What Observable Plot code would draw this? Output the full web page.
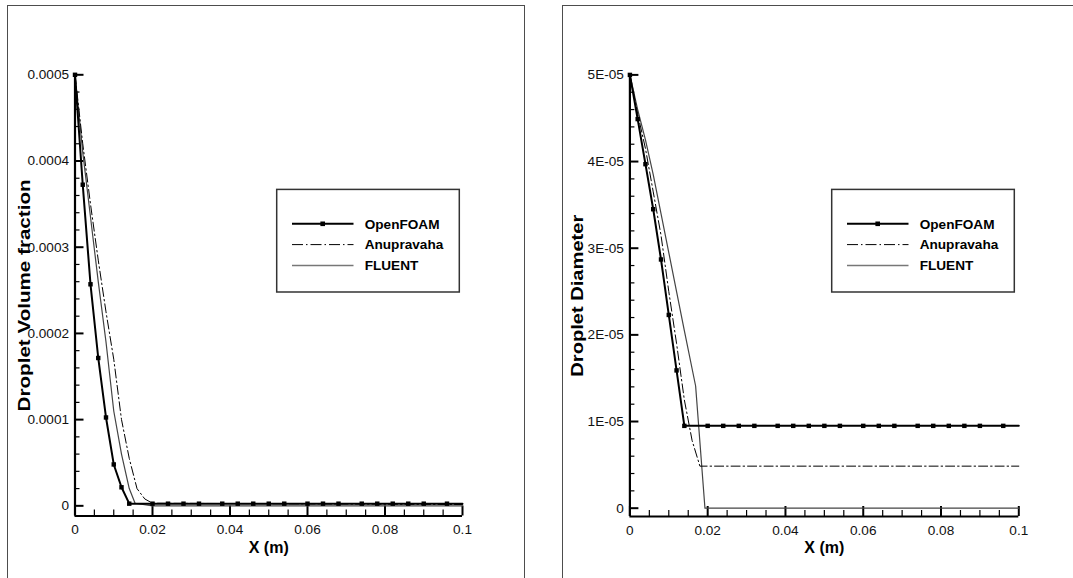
<!DOCTYPE html>
<html>
<head>
<meta charset="utf-8">
<script src="https://cdn.jsdelivr.net/npm/d3@7"></script>
<script src="https://cdn.jsdelivr.net/npm/@observablehq/plot@0.6"></script>
<style>
  html, body { margin: 0; padding: 0; background: #fff; }
  body { position: relative; width: 1073px; height: 578px; overflow: hidden;
         font-family: "Liberation Sans", Arial, Helvetica, sans-serif; }
  .panel { position: absolute; border: 1.5px solid #4d4d4d; box-sizing: border-box; }
  .chart { position: absolute; top: 0; }
  #overlay { position: absolute; left: 0; top: 0; pointer-events: none; }
</style>
</head>
<body>
<div class="panel" style="left:7px; top:4.5px; width:518px; height:700px;"></div>
<div class="panel" style="left:562px; top:4.5px; width:600px; height:700px;"></div>
<div id="left" class="chart" style="left:0px;"></div>
<div id="right" class="chart" style="left:540px;"></div>
<svg id="overlay" width="1073" height="578"></svg>
<script>
// ---- axis ticks ---------------------------------------------------------
const xTicks = [0, 0.02, 0.04, 0.06, 0.08, 0.1];
const xTickLabels = ["0", "0.02", "0.04", "0.06", "0.08", "0.1"];
const xMinorTicks = [0.005, 0.01, 0.015, 0.025, 0.03, 0.035, 0.045, 0.05, 0.055,
                     0.065, 0.07, 0.075, 0.085, 0.09, 0.095];

const vfTicks = [0, 0.0001, 0.0002, 0.0003, 0.0004, 0.0005];
const vfTickLabels = ["0", "0.0001", "0.0002", "0.0003", "0.0004", "0.0005"];
const vfMinorTicks = [0.00002, 0.00004, 0.00006, 0.00008, 0.00012, 0.00014, 0.00016, 0.00018,
                      0.00022, 0.00024, 0.00026, 0.00028, 0.00032, 0.00034, 0.00036, 0.00038,
                      0.00042, 0.00044, 0.00046, 0.00048];

const dTicks = [0, 0.00001, 0.00002, 0.00003, 0.00004, 0.00005];
const dTickLabels = ["0", "1E-05", "2E-05", "3E-05", "4E-05", "5E-05"];
const dMinorTicks = [0.000002, 0.000004, 0.000006, 0.000008, 0.000012, 0.000014, 0.000016, 0.000018,
                     0.000022, 0.000024, 0.000026, 0.000028, 0.000032, 0.000034, 0.000036, 0.000038,
                     0.000042, 0.000044, 0.000046, 0.000048];

// ---- series -------------------------------------------------------------
const seriesNames = ["OpenFOAM", "Anupravaha", "FLUENT"];

// OpenFOAM samples (symbols on every sample except the end point x = 0.1)
const openfoamX = [0, 0.002, 0.004, 0.006, 0.008, 0.010, 0.012, 0.014, 0.020, 0.024, 0.028, 0.032,
                   0.038, 0.042, 0.046, 0.050, 0.054, 0.060, 0.064, 0.068, 0.074, 0.078, 0.082,
                   0.086, 0.090, 0.096, 0.1];

// Droplet volume fraction
const vfOpenFOAM = [0.0005, 0.0003725, 0.000257, 0.0001715, 0.0001025, 0.000048, 0.0000215, 0.0000025,
                    0.0000025, 0.0000025, 0.0000025, 0.0000025, 0.0000025, 0.0000025, 0.0000025,
                    0.0000025, 0.0000025, 0.0000025, 0.0000025, 0.0000025, 0.0000025, 0.0000025,
                    0.0000025, 0.0000025, 0.0000025, 0.0000025, 0.0000025];
const vfAnupravahaX = [0, 0.002, 0.004, 0.006, 0.008, 0.010, 0.012, 0.014, 0.016, 0.018, 0.020, 0.1];
const vfAnupravaha  = [0.0005, 0.00042, 0.00035, 0.000285, 0.000225, 0.00017, 0.0001, 0.000055,
                       0.00002, 0.000008, 0.000003, 0.0000015];
const vfFluentX = [0, 0.002, 0.004, 0.006, 0.008, 0.010, 0.012, 0.014, 0.0155, 0.020, 0.1];
const vfFluent  = [0.0005, 0.00041, 0.000335, 0.00026, 0.00019, 0.00011, 0.00006, 0.00002,
                   0.000003, 0, 0];

// Droplet diameter
const dOpenFOAM = [0.00005, 0.0000449, 0.0000397, 0.0000345, 0.0000287, 0.0000223, 0.0000159, 0.0000095,
                   0.0000095, 0.0000095, 0.0000095, 0.0000095, 0.0000095, 0.0000095, 0.0000095,
                   0.0000095, 0.0000095, 0.0000095, 0.0000095, 0.0000095, 0.0000095, 0.0000095,
                   0.0000095, 0.0000095, 0.0000095, 0.0000095, 0.0000095];
const dAnupravahaX = [0, 0.002, 0.004, 0.006, 0.008, 0.010, 0.012, 0.014, 0.016, 0.018, 0.1];
const dAnupravaha  = [0.00005, 0.0000455, 0.0000415, 0.0000365, 0.0000315, 0.000025, 0.000019,
                      0.0000125, 0.0000078, 0.00000485, 0.00000485];
const dFluentX = [0, 0.002, 0.004, 0.006, 0.008, 0.010, 0.012, 0.014, 0.0169, 0.0193, 0.1];
const dFluent  = [0.00005, 0.000046, 0.0000425, 0.0000385, 0.000034, 0.0000295, 0.000025,
                  0.0000205, 0.0000141, 0, 0];

const xTitle = "X (m)";

// ---- styles -------------------------------------------------------------
const styles = {
  OpenFOAM:   {stroke: "#000", strokeWidth: 2},
  Anupravaha: {stroke: "#000", strokeWidth: 1, strokeDasharray: "9,3,1.5,3"},
  FLUENT:     {stroke: "#444", strokeWidth: 1.2}
};

const rows = (xs, ys) => xs.map((x, i) => ({x, y: ys[i]}));

function drawChart(target, cfg) {
  const {width, height, margin, yDomain, yTicks, yTickLabels, yMinor, data, yTitle, titleDx, titleLength} = cfg;
  const plotW = width - margin.left - margin.right;
  const plotH = height - margin.top - margin.bottom;
  const xSpan = 0.1, ySpan = yDomain[1] - yDomain[0];
  // tick lengths (pixels) expressed along the data axes
  const yTickLen = px => xSpan * px / plotW;
  const xTickTop = px => yDomain[0] + ySpan * px / plotH;
  const svg = Plot.plot({
    width, height,
    marginLeft: margin.left, marginRight: margin.right,
    marginTop: margin.top, marginBottom: margin.bottom,
    x: {domain: [0, xSpan]},
    y: {domain: yDomain},
    style: {fontFamily: "'Liberation Sans', Arial, Helvetica, sans-serif", fontSize: "13.6px",
            color: "#111", background: "transparent", overflow: "visible"},
    marks: [
      // inward ticks along the axes
      Plot.ruleY(yMinor, {y: d => d, x1: 0, x2: yTickLen(5), strokeWidth: 1.2, stroke: "#000"}),
      Plot.ruleY(yTicks, {y: d => d, x1: 0, x2: yTickLen(9), strokeWidth: 2, stroke: "#000"}),
      Plot.ruleX(xMinorTicks, {x: d => d, y1: yDomain[0], y2: xTickTop(6), strokeWidth: 1.2, stroke: "#000"}),
      Plot.ruleX(xTicks, {x: d => d, y1: yDomain[0], y2: xTickTop(10), strokeWidth: 2, stroke: "#000"}),
      // axis lines
      Plot.ruleX([0], {strokeWidth: 2.2, stroke: "#000"}),
      Plot.ruleY([yDomain[0]], {strokeWidth: 2.2, stroke: "#000"}),
      // series
      Plot.line(data.FLUENT, {x: "x", y: "y", ...styles.FLUENT}),
      Plot.line(data.Anupravaha, {x: "x", y: "y", ...styles.Anupravaha}),
      Plot.line(data.OpenFOAM, {x: "x", y: "y", ...styles.OpenFOAM}),
      Plot.dot(data.OpenFOAM, {x: "x", y: "y", filter: d => d.x < xSpan, symbol: "square", r: 2.5, fill: "#000"}),
      // tick labels
      Plot.axisY({ticks: yTicks, tickFormat: d => yTickLabels[yTicks.indexOf(d)], tickSize: 0, tickPadding: 6, label: null}),
      Plot.axisX({ticks: xTicks, tickFormat: d => xTickLabels[xTicks.indexOf(d)], tickSize: 0, tickPadding: 8.5, label: null}),
      // axis titles
      Plot.text([xTitle], {frameAnchor: "bottom", dy: 36.5, lineAnchor: "bottom", fontWeight: "bold", fontSize: 16, fill: "#000"}),
      Plot.text([yTitle], {frameAnchor: "left", dx: titleDx, dy: titleLength / 2, rotate: -90, textAnchor: "start",
                           fontWeight: "bold", fontSize: 17, fill: "#000"})
    ]
  });
  d3.select(svg).selectAll("text")
    .filter(function () { return this.textContent === yTitle; })
    .attr("textLength", titleLength)
    .attr("lengthAdjust", "spacingAndGlyphs");
  document.getElementById(target).appendChild(svg);
}

drawChart("left", {
  width: 540, height: 578,
  margin: {left: 74.5, right: 78, top: 74.3, bottom: 62.5},
  yDomain: [-0.0000118, 0.0005],
  yTicks: vfTicks, yTickLabels: vfTickLabels, yMinor: vfMinorTicks,
  data: {
    OpenFOAM: rows(openfoamX, vfOpenFOAM),
    Anupravaha: rows(vfAnupravahaX, vfAnupravaha),
    FLUENT: rows(vfFluentX, vfFluent)
  },
  yTitle: "Droplet Volume fraction", titleDx: -50, titleLength: 232
});

drawChart("right", {
  width: 533, height: 578,
  margin: {left: 89.4, right: 54.7, top: 74.4, bottom: 62},
  yDomain: [-0.00000096, 0.00005],
  yTicks: dTicks, yTickLabels: dTickLabels, yMinor: dMinorTicks,
  data: {
    OpenFOAM: rows(openfoamX, dOpenFOAM),
    Anupravaha: rows(dAnupravahaX, dAnupravaha),
    FLUENT: rows(dFluentX, dFluent)
  },
  yTitle: "Droplet Diameter", titleDx: -52, titleLength: 162
});

// ---- legends ------------------------------------------------------------
const overlay = d3.select("#overlay");
const legendStyles = {
  OpenFOAM:   {stroke: "#000", width: 2, dash: null, marker: true},
  Anupravaha: {stroke: "#000", width: 1, dash: "11,3,1.5,3", marker: false},
  FLUENT:     {stroke: "#777", width: 1.5, dash: null, marker: false}
};
for (const left of [276.7, 831.7]) {
  const g = overlay.append("g").attr("transform", `translate(${left},189.4)`);
  g.append("rect").attr("width", 182.6).attr("height", 102.6)
    .attr("fill", "#fff").attr("stroke", "#333").attr("stroke-width", 1.5);
  seriesNames.forEach((name, i) => {
    const s = legendStyles[name];
    const y = 34.4 + i * 20.8;
    g.append("line").attr("x1", 15.3).attr("x2", 76.8).attr("y1", y).attr("y2", y)
      .attr("stroke", s.stroke).attr("stroke-width", s.width)
      .attr("stroke-dasharray", s.dash);
    if (s.marker) {
      g.append("rect").attr("x", 46 - 2.3).attr("y", y - 2.3).attr("width", 4.6).attr("height", 4.6).attr("fill", "#000");
    }
    g.append("text").attr("x", 88).attr("y", y + 4.9).text(name)
      .attr("font-family", "'Liberation Sans', Arial, sans-serif")
      .attr("font-weight", "bold").attr("font-size", 13.6).attr("fill", "#000");
  });
}
</script>
</body>
</html>
